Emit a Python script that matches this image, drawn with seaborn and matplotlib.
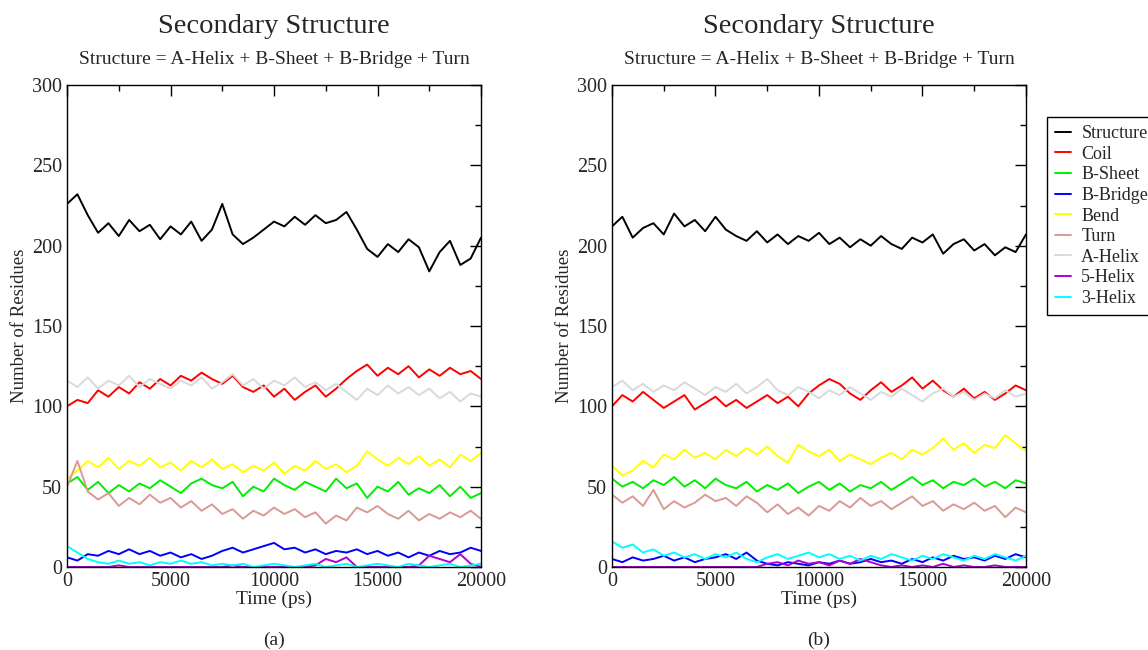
import pandas as pd
import matplotlib
matplotlib.use('Agg')
import matplotlib.pyplot as plt
from matplotlib.ticker import MultipleLocator
import seaborn as sns

# time axis (ps), sampled every 500 ps
time_ps = [0, 500, 1000, 1500, 2000, 2500, 3000, 3500, 4000, 4500, 5000,
           5500, 6000, 6500, 7000, 7500, 8000, 8500, 9000, 9500, 10000,
           10500, 11000, 11500, 12000, 12500, 13000, 13500, 14000, 14500, 15000,
           15500, 16000, 16500, 17000, 17500, 18000, 18500, 19000, 19500, 20000]

series_names = ['Structure', 'Coil', 'B-Sheet', 'B-Bridge', 'Bend', 'Turn',
                'A-Helix', '5-Helix', '3-Helix']
series_colors = ['#000000', '#ff0000', '#00ee00', '#0000ff', '#ffff00',
                 '#d99a94', '#d9d9d9', '#b000d0', '#00ffff']

# ---- panel (a)
a_structure = [226, 232, 219, 208, 214, 206, 216, 209, 213, 204, 212, 207, 215, 203, 210, 226, 207, 201, 205, 210,
               215, 212, 218, 213, 219, 214, 216, 221, 210, 198, 193, 201, 196, 204, 199, 184, 196, 203, 188, 192, 205]
a_coil = [100, 104, 102, 110, 106, 112, 108, 115, 111, 117, 113, 119, 116, 121, 117, 114, 119, 112, 109, 113,
          106, 111, 104, 109, 113, 106, 111, 117, 122, 126, 119, 124, 120, 125, 118, 123, 119, 124, 120, 122, 117]
a_bsheet = [52, 56, 48, 53, 46, 51, 47, 52, 49, 54, 50, 46, 52, 55, 51, 49, 53, 44, 50, 47,
            55, 51, 48, 53, 50, 47, 55, 49, 52, 43, 50, 47, 53, 45, 49, 46, 51, 44, 50, 43, 46]
a_bbridge = [6, 4, 8, 7, 10, 8, 11, 8, 10, 7, 9, 6, 8, 5, 7, 10, 12, 9, 11, 13,
             15, 11, 12, 9, 11, 8, 10, 9, 11, 8, 10, 7, 9, 6, 9, 7, 10, 8, 9, 12, 10]
a_bend = [55, 60, 66, 62, 68, 61, 66, 63, 68, 62, 65, 60, 66, 62, 67, 61, 64, 59, 63, 60,
          65, 58, 63, 60, 66, 61, 64, 59, 63, 72, 67, 63, 68, 64, 69, 63, 67, 62, 70, 66, 71]
a_turn = [50, 66, 47, 42, 46, 38, 43, 39, 45, 40, 43, 37, 41, 35, 39, 33, 36, 30, 35, 32,
          37, 33, 36, 31, 34, 27, 32, 29, 37, 34, 38, 33, 30, 35, 29, 33, 30, 34, 31, 35, 30]
a_ahelix = [116, 112, 118, 111, 116, 113, 119, 112, 117, 114, 111, 116, 113, 118, 111, 115, 120, 113, 117, 111,
            116, 113, 118, 112, 115, 110, 114, 109, 104, 111, 107, 113, 108, 112, 107, 111, 105, 109, 103, 108, 106]
a_5helix = [0, 0, 0, 0, 0, 1, 0, 0, 0, 0, 0, 0, 0, 0, 0, 0, 1, 0, 0, 0,
            0, 0, 0, 0, 1, 5, 3, 6, 0, 0, 0, 0, 0, 0, 1, 7, 5, 3, 8, 2, 0]
a_3helix = [13, 9, 5, 3, 2, 4, 2, 3, 1, 3, 2, 4, 2, 3, 1, 2, 1, 2, 0, 1,
            2, 1, 0, 1, 2, 0, 1, 2, 0, 1, 2, 1, 0, 2, 1, 0, 1, 2, 0, 1, 2]

# ---- panel (b)
b_structure = [212, 218, 205, 211, 214, 207, 220, 212, 216, 209, 218, 210, 206, 203, 209, 202, 207, 201, 206, 203,
               208, 201, 205, 199, 204, 200, 206, 201, 198, 205, 202, 207, 195, 201, 204, 197, 201, 194, 199, 196, 207]
b_coil = [100, 107, 103, 109, 104, 99, 103, 107, 98, 102, 106, 100, 104, 99, 103, 107, 102, 106, 100, 108,
          113, 117, 114, 108, 104, 110, 115, 109, 113, 118, 111, 116, 110, 106, 111, 105, 109, 104, 108, 113, 110]
b_bsheet = [55, 50, 53, 49, 54, 51, 56, 50, 54, 49, 55, 51, 49, 53, 47, 51, 48, 52, 46, 50,
            53, 48, 52, 47, 51, 49, 53, 48, 52, 56, 51, 54, 49, 53, 51, 55, 50, 53, 49, 54, 52]
b_bbridge = [5, 3, 6, 4, 5, 7, 4, 6, 3, 5, 6, 8, 5, 9, 4, 2, 1, 3, 2, 1,
             3, 2, 4, 2, 3, 5, 3, 4, 2, 5, 3, 6, 4, 7, 5, 6, 4, 7, 5, 8, 6]
b_bend = [63, 57, 60, 66, 62, 70, 67, 73, 68, 71, 67, 73, 69, 74, 70, 75, 69, 65, 76, 72,
          69, 73, 66, 70, 67, 64, 68, 71, 67, 73, 70, 74, 80, 73, 77, 71, 76, 74, 82, 77, 72]
b_turn = [45, 40, 44, 38, 48, 36, 41, 37, 40, 45, 41, 43, 38, 44, 40, 34, 39, 33, 37, 32,
          38, 35, 41, 37, 43, 38, 41, 36, 40, 44, 38, 41, 35, 39, 36, 40, 35, 38, 31, 37, 34]
b_ahelix = [112, 116, 110, 114, 109, 113, 110, 115, 111, 107, 112, 109, 114, 108, 112, 117, 110, 107, 112, 109,
            105, 110, 107, 112, 108, 104, 109, 106, 111, 107, 103, 108, 111, 106, 109, 104, 108, 105, 110, 106, 108]
b_5helix = [0, 0, 0, 0, 0, 0, 0, 0, 0, 0, 0, 0, 0, 0, 0, 2, 3, 1, 4, 2,
            3, 1, 4, 2, 5, 3, 1, 0, 1, 0, 1, 0, 2, 0, 1, 0, 0, 1, 0, 0, 0]
b_3helix = [16, 12, 14, 9, 11, 7, 9, 6, 8, 5, 8, 6, 9, 5, 3, 6, 8, 5, 7, 9,
            6, 8, 5, 7, 4, 7, 5, 8, 6, 4, 7, 5, 8, 6, 4, 7, 5, 8, 6, 4, 7]

panel_a = [a_structure, a_coil, a_bsheet, a_bbridge, a_bend, a_turn, a_ahelix, a_5helix, a_3helix]
panel_b = [b_structure, b_coil, b_bsheet, b_bbridge, b_bend, b_turn, b_ahelix, b_5helix, b_3helix]


def to_long(values):
    frames = []
    for name, vals in zip(series_names, values):
        frames.append(pd.DataFrame({'time': time_ps, 'value': vals, 'series': name}))
    return pd.concat(frames, ignore_index=True)


sns.set_style('white')
plt.rcParams['font.family'] = ['Liberation Serif', 'DejaVu Serif']

fig = plt.figure(figsize=(11.48, 6.5), dpi=100)
ax1 = fig.add_axes([0.0584, 0.1277, 0.3606, 0.7415])
ax2 = fig.add_axes([0.5331, 0.1277, 0.3606, 0.7415])

palette = dict(zip(series_names, series_colors))

for ax, vals, tag in [(ax1, panel_a, '(a)'), (ax2, panel_b, '(b)')]:
    df = to_long(vals)
    sns.lineplot(data=df, x='time', y='value', hue='series', hue_order=series_names,
                 palette=palette, estimator=None, sort=False, linewidth=1.4, ax=ax, legend=True)
    ax.set_xlim(0, 20000)
    ax.set_ylim(0, 300)
    ax.xaxis.set_major_locator(MultipleLocator(5000))
    ax.xaxis.set_minor_locator(MultipleLocator(2500))
    ax.yaxis.set_major_locator(MultipleLocator(50))
    ax.yaxis.set_minor_locator(MultipleLocator(25))
    ax.tick_params(which='both', direction='in', top=True, right=True, labelsize=14.5, color='black')
    ax.tick_params(which='major', length=8, width=1)
    ax.tick_params(which='minor', length=4, width=1)
    for s in ax.spines.values():
        s.set_color('black')
        s.set_linewidth(1)
    ax.set_xlabel('Time (ps)', fontsize=14, labelpad=0)
    ax.set_ylabel('Number of Residues', fontsize=13.5, labelpad=3)
    ax.text(0.5, 1.122, 'Secondary Structure', transform=ax.transAxes,
            ha='center', va='center', fontsize=20.5)
    ax.text(0.5, 1.052, 'Structure = A-Helix + B-Sheet + B-Bridge + Turn', transform=ax.transAxes,
            ha='center', va='center', fontsize=14)
    ax.text(0.5, -0.152, tag, transform=ax.transAxes, ha='center', va='center', fontsize=14)
    ax.get_legend().remove()

handles, labels = ax2.get_legend_handles_labels()
leg = fig.legend(handles, labels, loc='upper left', bbox_to_anchor=(0.912, 0.82),
                 fontsize=13, frameon=True, fancybox=False, framealpha=1, edgecolor='black',
                 handlelength=0.9, handletextpad=0.55, labelspacing=0.2, borderpad=0.45,
                 borderaxespad=0)
leg.get_frame().set_linewidth(1)

fig.savefig('out.png', dpi=100)
